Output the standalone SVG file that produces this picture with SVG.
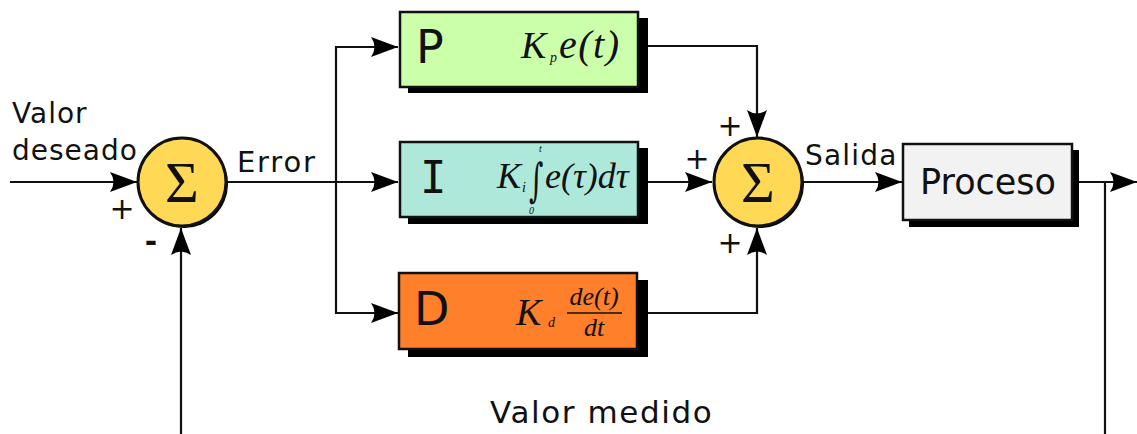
<svg xmlns="http://www.w3.org/2000/svg" width="1137" height="434" viewBox="0 0 1137 434">
<style>
.lbl{font-family:"DejaVu Sans","Verdana",sans-serif;fill:#111}
.math{font-family:"Liberation Serif","Times New Roman",serif;font-style:italic;fill:#111}
.sub{font-family:"Liberation Serif",serif;font-style:italic;fill:#111;font-size:14px}
.lim{font-family:"Liberation Serif",serif;font-style:italic;fill:#111;font-size:10px}
.conn{fill:none;stroke:#111;stroke-width:2.2}
.box{stroke:#111;stroke-width:2.5}
.shadow{fill:#000}
.sum{fill:#ffd955;stroke:#111;stroke-width:3}
.sigma{font-family:"Liberation Serif","DejaVu Serif",serif;font-size:58px;fill:#111}
.sign{font-family:"DejaVu Sans",sans-serif;font-size:30px;fill:#111}
.big{font-family:"DejaVu Sans",sans-serif;font-size:46px;fill:#111}
</style>
<defs>
<marker id="arr" markerUnits="userSpaceOnUse" viewBox="-28 -11 29 22" markerWidth="29" markerHeight="22" refX="0" refY="0" orient="auto">
<path d="M0,0 L-27,-10 Q-20,0 -27,10 Z" fill="#000"/>
</marker>
</defs>
<rect width="1137" height="434" fill="#fff"/>
<g id="connectors">
<path class="conn" d="M10,182 H137" marker-end="url(#arr)"/>
<path class="conn" d="M227,182 H398" marker-end="url(#arr)"/>
<path class="conn" d="M336,182 V47 H398" marker-end="url(#arr)"/>
<path class="conn" d="M336,182 V313 H398" marker-end="url(#arr)"/>
<path class="conn" d="M640,46 H757 V137" marker-end="url(#arr)"/>
<path class="conn" d="M640,182 H712" marker-end="url(#arr)"/>
<path class="conn" d="M640,313 H757 V228" marker-end="url(#arr)"/>
<path class="conn" d="M803,182 H902" marker-end="url(#arr)"/>
<path class="conn" d="M1073,182 H1137" marker-end="url(#arr)"/>
<path class="conn" d="M1105,182 V440 H181 V228" marker-end="url(#arr)"/>
</g>
<g id="sum1">
<circle cx="184" cy="184" r="44" fill="#000"/>
<circle class="sum" cx="182" cy="182" r="44"/>
<text class="sigma" x="182" y="202" text-anchor="middle">Σ</text>
<text class="sign" x="122" y="219" text-anchor="middle">+</text>
<text class="sign" x="151" y="252" text-anchor="middle" font-weight="bold">-</text>
</g>
<g id="sum2">
<circle cx="760" cy="184" r="44" fill="#000"/>
<circle class="sum" cx="758" cy="182" r="44"/>
<text class="sigma" x="758" y="202" text-anchor="middle">Σ</text>
<text class="sign" x="730" y="136" text-anchor="middle">+</text>
<text class="sign" x="697" y="169" text-anchor="middle">+</text>
<text class="sign" x="730" y="253" text-anchor="middle">+</text>
</g>
<g id="P">
<rect class="shadow" x="408" y="18" width="240" height="75"/>
<rect class="box" x="400" y="12" width="238" height="75" fill="#ccffaa"/>
<text class="big" x="416" y="63">P</text>
<text class="math" x="521" y="58" font-size="38">K</text>
<text class="sub" x="550" y="62">p</text>
<text class="math" x="559" y="58" font-size="40" letter-spacing="1.5">e(t)</text>
</g>
<g id="I">
<rect class="shadow" x="408" y="148" width="240" height="76"/>
<rect class="box" x="400" y="142" width="238" height="75" fill="#aee8da"/>
<text x="420" y="193" style="font-family:'DejaVu Sans Mono',monospace;font-size:44px;fill:#111">I</text>
<text class="math" x="497" y="188" font-size="36">K</text>
<text class="sub" x="522" y="192">i</text>
<text transform="translate(529,196) scale(0.6,1)" style="font-family:'DejaVu Serif',serif;font-size:46px;fill:#111">∫</text>
<text class="lim" x="539" y="152">t</text>
<text class="lim" x="529" y="214">0</text>
<text class="math" x="545" y="188" font-size="36">e(τ)dτ</text>
</g>
<g id="D">
<rect class="shadow" x="408" y="280" width="240" height="77"/>
<rect class="box" x="399" y="273" width="238" height="76" fill="#ff7f2a"/>
<text class="big" x="414" y="325">D</text>
<text class="math" x="516" y="325" font-size="38">K</text>
<text class="sub" x="548" y="327">d</text>
<text class="math" x="594" y="305" font-size="26" text-anchor="middle">de(t)</text>
<line x1="567" y1="313" x2="622" y2="313" stroke="#111" stroke-width="1.5"/>
<text class="math" x="594" y="336" font-size="26" text-anchor="middle">dt</text>
</g>
<g id="proceso">
<rect class="shadow" x="909" y="150" width="170" height="77"/>
<rect class="box" x="903" y="144" width="169" height="76" fill="#f2f2f2"/>
<text class="lbl" x="988" y="194" font-size="35" text-anchor="middle">Proceso</text>
</g>
<g id="labels">
<text class="lbl" x="12" y="123" font-size="28" letter-spacing="1">Valor</text>
<text class="lbl" x="12" y="160" font-size="28" letter-spacing="1">deseado</text>
<text class="lbl" x="237" y="172" font-size="29" letter-spacing="1.8">Error</text>
<text class="lbl" x="805" y="165" font-size="28" letter-spacing="1.2">Salida</text>
<text class="lbl" x="490" y="423" font-size="31" letter-spacing="1.6">Valor medido</text>
</g>
</svg>
